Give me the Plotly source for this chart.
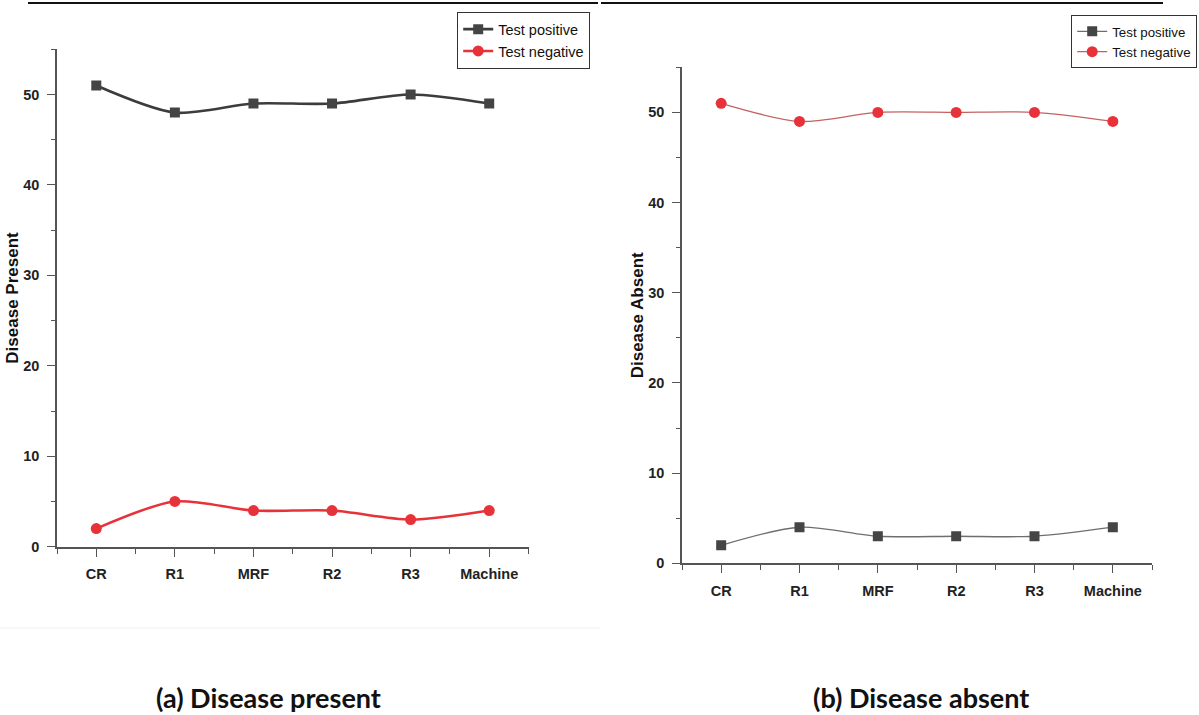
import plotly.graph_objects as go

# Categories on the x axis
categories = ["CR", "R1", "MRF", "R2", "R3", "Machine"]

# (a) Disease present
present_test_positive = [51, 48, 49, 49, 50, 49]
present_test_negative = [2, 5, 4, 4, 3, 4]

# (b) Disease absent
absent_test_positive = [2, 4, 3, 3, 3, 4]
absent_test_negative = [51, 49, 50, 50, 50, 49]

y_ticks = [0, 10, 20, 30, 40, 50]

W, H = 1199, 715
NARROW = "Liberation Sans Narrow, Arial Narrow, Liberation Sans, Arial"
DARK = "#3c3c3c"
RED = "#e8323a"

x_pos = list(range(len(categories)))

fig = go.Figure()

# Left panel
fig.add_trace(go.Scatter(
    x=x_pos, y=present_test_positive, name="Test positive",
    mode="lines+markers", line=dict(color=DARK, width=2.6, shape="spline", smoothing=0.8),
    marker=dict(symbol="square", size=10, color="#444444"),
    xaxis="x", yaxis="y", legend="legend"))
fig.add_trace(go.Scatter(
    x=x_pos, y=present_test_negative, name="Test negative",
    mode="lines+markers", line=dict(color=RED, width=2.6, shape="spline", smoothing=0.8),
    marker=dict(symbol="circle", size=11, color=RED),
    xaxis="x", yaxis="y", legend="legend"))

# Right panel
fig.add_trace(go.Scatter(
    x=x_pos, y=absent_test_positive, name="Test positive",
    mode="lines+markers", line=dict(color="#6e6e6e", width=1.3, shape="spline", smoothing=0.8),
    marker=dict(symbol="square", size=10, color="#454545"),
    xaxis="x2", yaxis="y2", legend="legend2"))
fig.add_trace(go.Scatter(
    x=x_pos, y=absent_test_negative, name="Test negative",
    mode="lines+markers", line=dict(color="#c46262", width=1.3, shape="spline", smoothing=0.8),
    marker=dict(symbol="circle", size=11, color=RED),
    xaxis="x2", yaxis="y2", legend="legend2"))


def x_axis(domain, anchor):
    return dict(
        domain=domain, anchor=anchor, range=[-0.5, len(categories) - 0.5],
        automargin=False,
        tickmode="array", tickvals=x_pos, ticktext=categories,
        ticks="outside", ticklen=8, tickwidth=1.3, tickcolor="#555555",
        minor=dict(ticks="outside", ticklen=5, tickwidth=1.3, tickcolor="#555555",
                   tick0=-0.5, dtick=1, showgrid=False),
        showline=True, linecolor="#555555", linewidth=1.6,
        showgrid=False, zeroline=False,
        tickfont=dict(family=NARROW, size=14.5, color="#222222", weight="bold"),
        ticklabelstandoff=5,
    )


def y_axis(domain, anchor, title):
    return dict(
        domain=domain, anchor=anchor, range=[0, 55],
        automargin=False,
        tickmode="array", tickvals=y_ticks,
        ticks="outside", ticklen=8, tickwidth=1.3, tickcolor="#555555",
        minor=dict(ticks="outside", ticklen=4, tickwidth=1.3, tickcolor="#555555",
                   tick0=5, dtick=10, showgrid=False),
        showline=True, linecolor="#555555", linewidth=1.6,
        showgrid=False, zeroline=False,
        tickfont=dict(family=NARROW, size=14.5, color="#222222", weight="bold"),
        ticklabelstandoff=5,
        title=dict(text=title, standoff=0,
                   font=dict(family="Liberation Sans, Arial", size=17, color="#111111", weight="bold")),
    )


fig.update_layout(
    width=W, height=H,
    margin=dict(l=0, r=0, t=0, b=0, autoexpand=False),
    paper_bgcolor="white", plot_bgcolor="white",
    xaxis=x_axis([57 / W, 528.5 / W], "y"),
    yaxis=y_axis([1 - 546.7 / H, 1 - 49.3 / H], "x", "Disease Present"),
    xaxis2=x_axis([682 / W, 1152 / W], "y2"),
    yaxis2=y_axis([1 - 563.3 / H, 1 - 67.3 / H], "x2", "Disease Absent"),
    legend=dict(
        x=457 / W, y=1 - 12 / H, xanchor="left", yanchor="top",
        bordercolor="#333333", borderwidth=1.2, bgcolor="white",
        font=dict(family=NARROW, size=14.5, color="#111111"),
        tracegroupgap=0, itemwidth=30,
    ),
    legend2=dict(
        x=1071 / W, y=1 - 15 / H, xanchor="left", yanchor="top",
        bordercolor="#333333", borderwidth=1.2, bgcolor="white",
        font=dict(family=NARROW, size=13.3, color="#111111"),
        tracegroupgap=0, itemwidth=30,
    ),
    showlegend=True,
)

# Rules across the top of each panel
fig.add_shape(type="line", xref="paper", yref="paper",
              x0=28 / W, x1=598 / W, y0=1 - 3 / H, y1=1 - 3 / H,
              line=dict(color="#111111", width=2))
fig.add_shape(type="line", xref="paper", yref="paper",
              x0=601 / W, x1=1163 / W, y0=1 - 3 / H, y1=1 - 3 / H,
              line=dict(color="#111111", width=2))
# Faint edge under the left panel
fig.add_shape(type="line", xref="paper", yref="paper",
              x0=0, x1=600 / W, y0=1 - 628 / H, y1=1 - 628 / H,
              line=dict(color="#f0f0f0", width=1))

# Panel captions
caption_font = dict(family="Lato, Open Sans, sans-serif", size=27, color="#111111", weight="bold")
fig.add_annotation(text="(a) Disease present", xref="paper", yref="paper",
                   x=268 / W, y=1 - 697 / H, showarrow=False, font=caption_font,
                   xanchor="center", yanchor="middle")
fig.add_annotation(text="(b) Disease absent", xref="paper", yref="paper",
                   x=921 / W, y=1 - 697 / H, showarrow=False, font=caption_font,
                   xanchor="center", yanchor="middle")

fig.write_html("out.html")
